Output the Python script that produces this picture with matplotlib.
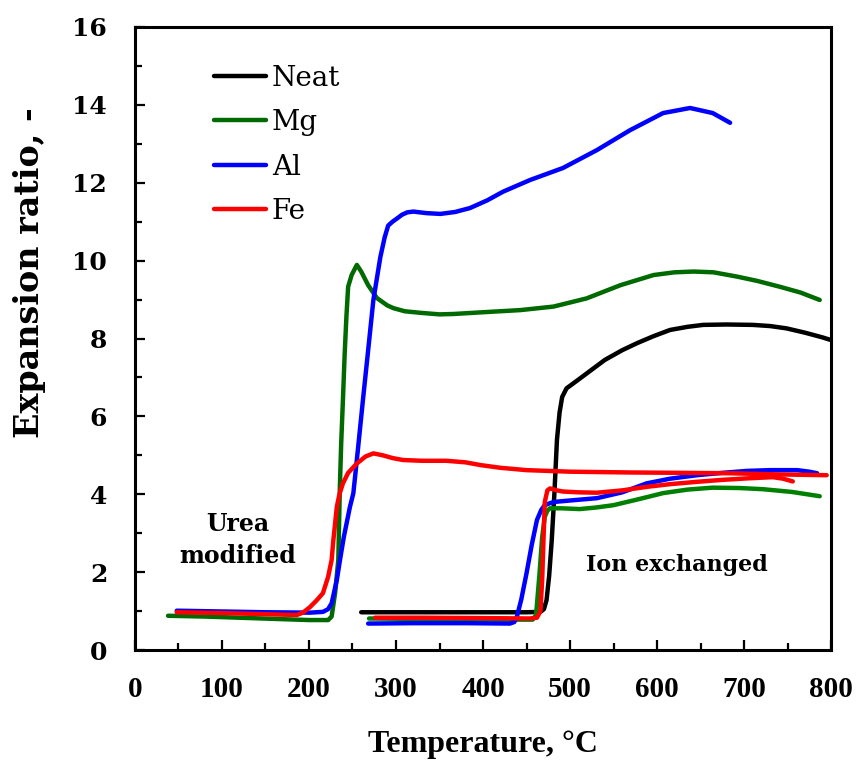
import matplotlib
matplotlib.use("Agg")
import matplotlib.pyplot as plt
from matplotlib.ticker import MultipleLocator

# Neat sample (ion exchanged run only)
neat_t = [260, 350, 450, 466, 470, 473, 476, 479, 482, 485, 488, 491, 496, 510, 525, 540,
          560, 577, 596, 615, 635, 653, 680, 710, 730, 749, 770, 790, 800]
neat_r = [0.97, 0.97, 0.97, 0.98, 1.05, 1.28, 1.9, 2.82, 4.0, 5.4, 6.1, 6.5, 6.72, 6.95,
          7.2, 7.45, 7.7, 7.88, 8.06, 8.22, 8.3, 8.35, 8.36, 8.35, 8.32, 8.26, 8.15, 8.03, 7.96]

# Urea modified runs
mg_u_t = [38, 80, 120, 160, 200, 222, 226, 230, 233.7, 235.5, 237, 239, 241, 243, 245, 249,
          255, 260, 268, 278, 290, 297, 310, 328, 350, 366, 404, 443, 481, 519, 558, 596,
          620, 642, 665, 692, 715, 741, 765, 787]
mg_u_r = [0.88, 0.86, 0.83, 0.8, 0.77, 0.77, 0.86, 1.46, 2.31, 4.2, 5.3, 6.42, 7.6, 8.56,
          9.33, 9.63, 9.89, 9.72, 9.37, 9.04, 8.85, 8.78, 8.7, 8.66, 8.62, 8.63, 8.68, 8.73,
          8.82, 9.03, 9.37, 9.63, 9.7, 9.72, 9.7, 9.59, 9.48, 9.33, 9.18, 8.99]

al_u_t = [48, 100, 150, 201, 216, 222, 226, 232, 235.6, 240, 247, 251, 256, 262, 268, 274,
          282, 287, 291, 296, 301, 307, 313, 320, 335, 351, 368, 385, 405, 423, 454, 492,
          531, 569, 607, 638, 664, 684]
al_u_r = [1.01, 0.99, 0.97, 0.96, 0.98, 1.05, 1.2, 1.8, 2.31, 2.9, 3.67, 4.03, 5.1, 6.42,
          7.7, 8.99, 10.09, 10.6, 10.9, 11.0, 11.08, 11.18, 11.24, 11.26, 11.22, 11.2, 11.25,
          11.35, 11.55, 11.77, 12.07, 12.38, 12.84, 13.35, 13.79, 13.92, 13.79, 13.54]

fe_u_t = [48, 100, 150, 186, 193, 201, 209, 216, 222, 226, 228, 232, 235, 239, 245, 255,
          265, 274, 285, 296, 308, 330, 358, 380, 397, 420, 450, 500, 569, 630, 684, 740, 795]
fe_u_r = [0.97, 0.95, 0.92, 0.9, 0.96, 1.1, 1.28, 1.46, 1.88, 2.31, 2.82, 3.68, 4.0, 4.28,
          4.55, 4.79, 4.97, 5.05, 5.0, 4.93, 4.88, 4.86, 4.86, 4.82, 4.75, 4.68, 4.62, 4.58,
          4.56, 4.55, 4.54, 4.51, 4.49]

# Ion exchanged runs
mg_i_t = [269, 320, 380, 440, 457, 461, 465, 468, 471, 474, 477, 490, 511, 530, 550, 580,
          607, 635, 664, 695, 722, 755, 787]
mg_i_r = [0.81, 0.8, 0.79, 0.78, 0.78, 0.9, 1.98, 2.9, 3.42, 3.58, 3.64, 3.64, 3.62, 3.66,
          3.72, 3.88, 4.03, 4.12, 4.17, 4.16, 4.13, 4.06, 3.95]

al_i_t = [268, 320, 380, 431, 436, 439, 444, 450, 456, 462, 467, 471, 478, 485, 500, 531,
          560, 588, 615, 646, 675, 703, 730, 761, 775, 784]
al_i_r = [0.68, 0.69, 0.69, 0.68, 0.72, 0.86, 1.3, 1.97, 2.7, 3.34, 3.6, 3.72, 3.78, 3.81,
          3.84, 3.9, 4.05, 4.28, 4.4, 4.49, 4.55, 4.6, 4.62, 4.62, 4.58, 4.54]

fe_i_t = [276, 330, 400, 454, 462, 466, 468, 469.5, 471, 474, 477, 485, 492, 510, 531, 560,
          588, 615, 646, 675, 705, 733, 745, 756]
fe_i_r = [0.83, 0.83, 0.82, 0.81, 0.83, 1.0, 1.8, 2.82, 3.8, 4.1, 4.15, 4.1, 4.07, 4.05,
          4.04, 4.1, 4.19, 4.26, 4.32, 4.37, 4.41, 4.44, 4.4, 4.33]

lw = 3.2
fig = plt.figure(figsize=(8.57, 7.67), dpi=100)
ax = fig.add_axes([0.1575, 0.1525, 0.8122, 0.8123])

ax.plot(neat_t, neat_r, color="black", lw=lw, solid_capstyle="round", label="Neat")
ax.plot(mg_u_t, mg_u_r, color="#006a00", lw=lw, solid_capstyle="round", label="Mg")
ax.plot(mg_i_t, mg_i_r, color="#008000", lw=lw, solid_capstyle="round")
ax.plot(al_u_t, al_u_r, color="#0000ff", lw=lw, solid_capstyle="round", label="Al")
ax.plot(al_i_t, al_i_r, color="#0000ff", lw=lw, solid_capstyle="round")
ax.plot(fe_u_t, fe_u_r, color="#ff0000", lw=lw, solid_capstyle="round", label="Fe")
ax.plot(fe_i_t, fe_i_r, color="#ff0000", lw=lw, solid_capstyle="round")

ax.set_xlim(0, 800)
ax.set_ylim(0, 16)
ax.xaxis.set_major_locator(MultipleLocator(100))
ax.xaxis.set_minor_locator(MultipleLocator(50))
ax.yaxis.set_major_locator(MultipleLocator(2))
ax.yaxis.set_minor_locator(MultipleLocator(1))
ax.tick_params(which="both", direction="in", width=1.6, top=False, right=False)
ax.tick_params(which="major", length=7)
ax.tick_params(which="minor", length=5)
ax.tick_params(axis="x", pad=19)
ax.tick_params(axis="y", pad=20)
for s in ax.spines.values():
    s.set_linewidth(2.2)

for lab in ax.get_xticklabels():
    lab.set_fontfamily("Liberation Serif")
    lab.set_fontweight("bold")
    lab.set_fontsize(21)
for lab in ax.get_yticklabels():
    lab.set_fontfamily("DejaVu Serif")
    lab.set_fontweight("bold")
    lab.set_fontsize(18)

fig.text(0.5635, 0.029, "Temperature, °C", ha="center", va="center",
         family="Liberation Serif", weight="bold", fontsize=23)
fig.text(0.034, 0.645, "Expansion ratio, -", ha="center", va="center", rotation=90,
         family="DejaVu Serif", weight="bold", fontsize=24)

ax.text(118, 2.82, "Urea\nmodified", ha="center", va="center", family="DejaVu Serif",
        weight="bold", fontsize=17, linespacing=1.4)
ax.text(623, 2.18, "Ion exchanged", ha="center", va="center", family="DejaVu Serif",
        weight="bold", fontsize=16)

leg = ax.legend(loc="upper left", bbox_to_anchor=(0.093, 0.962), frameon=False,
                borderpad=0, handlelength=1.9, handletextpad=0.2, labelspacing=0.63,
                prop={"family": "DejaVu Serif", "size": 20})

fig.savefig("out.png", dpi=100)
